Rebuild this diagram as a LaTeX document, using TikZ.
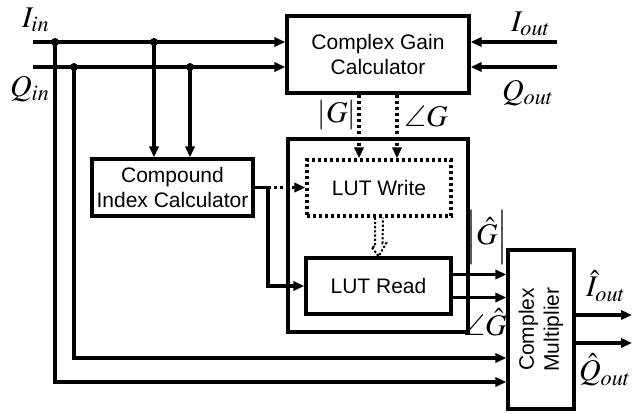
\documentclass[tikz,border=0pt]{standalone}
\usepackage{amsmath,amssymb,mathptmx}
\usepackage[no-math]{fontspec}
\setmainfont{Liberation Sans}
\usetikzlibrary{arrows.meta}

\begin{document}
\begin{tikzpicture}[x=0.5pt,y=-0.5pt,line width=1.65pt,>={Triangle[length=5.5pt,width=4.6pt]},
  blk/.style={draw,align=center,inner sep=0pt,font=\fontsize{10.5}{12.5}\selectfont},
  dots/.style={dash pattern=on 1.6pt off 1.4pt},
  lbl/.style={inner sep=0pt,font=\fontsize{15}{17}\selectfont}]
\useasboundingbox (0,0) rectangle (643,413);
% blocks
\node[blk,minimum width=91pt,minimum height=38.5pt] (cgc) at (378,54.5) {Complex Gain\\Calculator};
\node[blk,minimum width=80.5pt,minimum height=28.5pt] (cic) at (172.5,187.5) {Compound\\Index Calculator};
\node[blk,minimum width=90pt,minimum height=96.5pt] (lut) at (378,235.5) {};
\node[blk,dots,minimum width=72pt,minimum height=28pt] (lutw) at (379,188) {LUT Write};
\node[blk,minimum width=72.5pt,minimum height=28pt] (lutr) at (378.5,286) {LUT Read};
\node[blk,minimum width=33pt,minimum height=79.5pt] (cm) at (541,329.5) {};
\node[rotate=90,align=center,inner sep=0pt,font=\fontsize{10.5}{12.5}\selectfont] (cmt) at (cm.center) {Complex\\Multiplier};
% inputs I and Q
\coordinate (iin) at (33,42);
\coordinate (qin) at (33,67);
\draw[->] (iin) -- (iin -| cgc.west);
\draw[->] (qin) -- (qin -| cgc.west);
\coordinate (ia) at (55,42);
\coordinate (qa) at (74,67);
\coordinate (ib) at (154,42);
\coordinate (qb) at (190,67);
\foreach \p in {ia,qa,ib,qb} \fill (\p) circle (2pt);
\draw[->] (ib) -- (ib |- cic.north);
\draw[->] (qb) -- (qb |- cic.north);
\coordinate (ic) at (55,382);
\coordinate (qc) at (74,358);
\draw[->] (ia) -- (ic) -- (ic -| cm.west);
\draw[->] (qa) -- (qc) -- (qc -| cm.west);
% measured outputs
\coordinate (iout) at (557,42);
\coordinate (qout) at (557,67);
\draw[->] (iout) -- (iout -| cgc.east);
\draw[->] (qout) -- (qout -| cgc.east);
% gain to LUT Write
\draw[->,dots] ([xshift=-9.5pt]cgc.south) -- ([xshift=-9.5pt]cgc.south |- lutw.north);
\draw[->,dots] ([xshift=9.5pt]cgc.south) -- ([xshift=9.5pt]cgc.south |- lutw.north);
% index to LUT
\coordinate (br) at (268,187.5);
\draw (cic.east |- br) -- (br);
\draw[->,dots] (br) -- (br -| lutw.west);
\draw[->] (br) |- (lutr.west);
% write to read
\draw[line width=1pt,dash pattern=on 1.1pt off 1pt] ([xshift=-2pt]lutw.south) -- ++(0,-14.5pt) -- ++(-1.8pt,0)
  -- (lutr.north) -- ++(3.8pt,6.5pt) -- ++(-1.8pt,0) -- ([xshift=2pt]lutw.south);
% LUT Read to multiplier
\draw[->] ([yshift=5.75pt]lutr.east) -- ([yshift=5.75pt]lutr.east -| cm.west);
\draw[->] ([yshift=-5.75pt]lutr.east) -- ([yshift=-5.75pt]lutr.east -| cm.west);
% outputs
\coordinate (ihat) at (632,315);
\coordinate (qhat) at (632,343);
\draw[->] (cm.east |- ihat) -- (ihat);
\draw[->] (cm.east |- qhat) -- (qhat);
% labels
\node[lbl] (lin) at (36,20) {$I_{in}$};
\node[lbl] (lqin) at (30,89) {$Q_{in}$};
\node[lbl] (liout) at (531,24) {$I_{out}$};
\node[lbl] (lqout) at (528,93) {$Q_{out}$};
\node[lbl] (lg) at (337,115) {$\left|G\right|$};
\node[lbl] (lag) at (426,116) {$\angle G$};
\node[lbl] (lgh) at (487,237) {$\left|\rule[-4pt]{0pt}{20pt}\hat{G}\right|$};
\node[lbl] (lagh) at (485,322) {$\angle\hat{G}$};
\node[lbl] (lih) at (606,286) {$\hat{I}_{out}$};
\node[lbl] (lqh) at (605,370) {$\hat{Q}_{out}$};
\end{tikzpicture}
\end{document}
